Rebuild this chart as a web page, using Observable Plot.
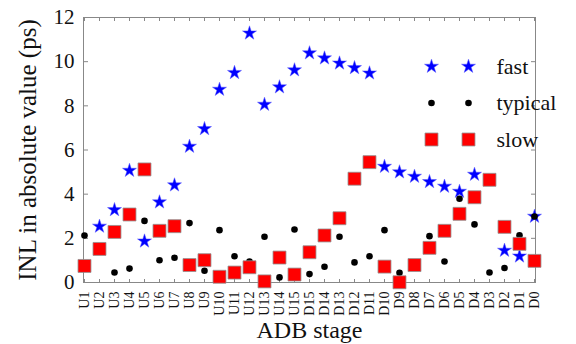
<!DOCTYPE html>
<html>
<head>
<meta charset="utf-8">
<script src="https://cdn.jsdelivr.net/npm/d3@7"></script>
<script src="https://cdn.jsdelivr.net/npm/@observablehq/plot@0.6"></script>
<style>
  html, body { margin: 0; padding: 0; background: #fff; }
  #chart svg { display: block; }
</style>
</head>
<body>
<div id="chart"></div>
<script>
const stages = ["U1","U2","U3","U4","U5","U6","U7","U8","U9","U10","U11","U12","U13","U14","U15",
  "D15","D14","D13","D12","D11","D10","D9","D8","D7","D6","D5","D4","D3","D2","D1","D0"];
const fast = [null,2.54,3.29,5.07,1.87,3.64,4.41,6.16,6.96,8.74,9.50,11.29,8.06,8.85,9.62,
  10.39,10.16,9.93,9.72,9.48,
  5.25,5.00,4.80,4.56,4.35,4.12,4.89,null,1.45,1.19,2.99];
const typical = [2.13,null,0.45,0.63,2.79,1.01,1.12,2.69,0.53,2.37,1.19,0.95,2.07,0.23,2.40,
  0.38,0.71,2.07,0.91,1.19,
  2.37,0.44,null,2.10,0.95,3.79,2.63,0.45,0.66,2.14,2.99];
const slow = [0.75,1.52,2.29,3.08,5.12,2.34,2.55,0.79,1.01,0.26,0.45,0.69,0.05,1.13,0.36,
  1.37,2.13,2.91,4.70,5.45,
  0.72,0.01,0.79,1.57,2.34,3.11,3.86,4.65,2.52,1.75,0.98];
const yTicks = [0,2,4,6,8,10,12];
const seriesNames = ["fast","typical","slow"];
const xTitle = "ADB stage";
const yTitle = "INL in absolute value (ps)";

const rows = stages.map((s,i) => ({stage:s, fast:fast[i], typical:typical[i], slow:slow[i]}));

const styleOf = {
  fast:    {symbol:"star",   r:4.4, fill:"#0000ff", stroke:"#5a5aff", strokeWidth:0.5},
  typical: {symbol:"circle", r:3.3, fill:"#000000", stroke:"none"},
  slow:    {symbol:"square", r:7.3, fill:"#ff0000", stroke:"#909090", strokeWidth:0.8}
};

const legendMarks = [];
seriesNames.forEach((name,i) => {
  const dy = 49 + i*36.5;
  [348, 385].forEach(dx => {
    legendMarks.push(Plot.dot([name], {frameAnchor:"top-left", dx, dy, ...styleOf[name]}));
  });
  legendMarks.push(Plot.text([name], {frameAnchor:"top-left", dx:413, dy, textAnchor:"start",
    lineAnchor:"middle", fontSize:22, fill:"#111"}));
});

const chart = Plot.plot({
  width: 576, height: 344,
  marginLeft: 83, marginRight: 41, marginTop: 17, marginBottom: 62,
  style: {fontFamily: "'Liberation Serif', serif", background: "#fff", color:"#111"},
  x: {type:"point", domain: stages, padding: 0},
  y: {domain: [0,12]},
  marks: [
    Plot.frame({stroke:"#888"}),
    Plot.axisY({anchor:"left", ticks:yTicks, tickSize:-5, tickFormat:() => "", stroke:"#888", label:null}),
    Plot.axisY({anchor:"right", ticks:yTicks, tickSize:-5, tickFormat:() => "", stroke:"#888", label:null}),
    Plot.axisY({anchor:"left", ticks:yTicks, tickSize:0, tickPadding:9, fontSize:21, label:null}),
    Plot.axisX({anchor:"top", tickSize:-3, tickFormat:() => "", stroke:"#888", label:null}),
    Plot.axisX({anchor:"bottom", tickSize:-3, tickFormat:() => "", stroke:"#888", label:null}),
    Plot.axisX({anchor:"bottom", tickSize:0, tickPadding:9, tickRotate:-90, fontSize:14, label:null}),
    Plot.text([yTitle], {frameAnchor:"left", dx:-56, rotate:-90, textAnchor:"middle", lineAnchor:"middle",
      fontSize:25, fill:"#111"}),
    Plot.text([xTitle], {frameAnchor:"bottom", dy:48, lineAnchor:"middle", fontSize:24, fill:"#111"}),
    Plot.dot(rows.filter(d => d.fast != null), {x:"stage", y:"fast", ...styleOf.fast}),
    Plot.dot(rows.filter(d => d.typical != null), {x:"stage", y:"typical", ...styleOf.typical}),
    Plot.dot(rows.filter(d => d.slow != null), {x:"stage", y:"slow", ...styleOf.slow}),
    ...legendMarks
  ]
});
document.getElementById("chart").appendChild(chart);
</script>
</body>
</html>
